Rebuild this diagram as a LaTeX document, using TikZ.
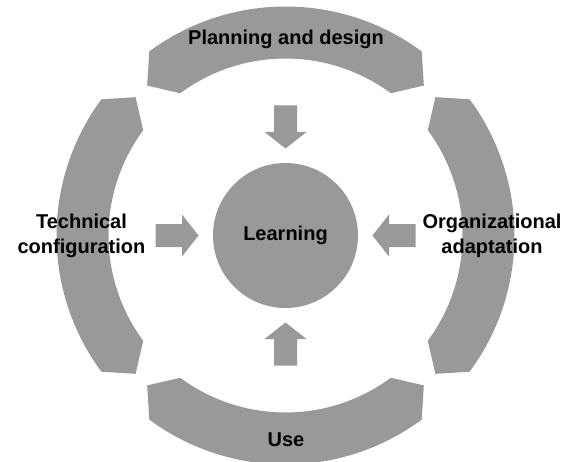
\documentclass[tikz,border=0pt]{standalone}
\usepackage{fontspec}
\setmainfont{Liberation Sans}
\definecolor{ringgray}{HTML}{999999}
\tikzset{
  lbl/.style={font=\bfseries\fontsize{20}{25}\selectfont, text=black, inner sep=0pt, align=center},
  seg/.style={fill=ringgray},
  blockarrow/.style={fill=ringgray}
}
\begin{document}
\begin{tikzpicture}[x=1pt,y=1pt]
\useasboundingbox (0,0) rectangle (564,461);
\begin{scope}[shift={(285.5,225.5)}]
  % ring segments with pointed ends
  \foreach \a in {0,90,180,270}{
    \fill[seg] ({\a-36.5}:229pt) arc[start angle={\a-36.5}, end angle={\a+36.5}, radius=229pt]
      -- ({\a+42.7}:204pt) -- ({\a+36.5}:177pt)
      arc[start angle={\a+36.5}, end angle={\a-36.5}, radius=177pt]
      -- ({\a-42.7}:204pt) -- cycle;
  }
  % block arrows pointing to the centre
  \foreach \a in {0,90,180,270}{
    \fill[blockarrow, rotate=\a] (130pt,-11.5pt) -- (103.5pt,-11.5pt) -- (103.5pt,-21pt)
      -- (87pt,0pt) -- (103.5pt,21pt) -- (103.5pt,11.5pt) -- (130pt,11.5pt) -- cycle;
  }
  \node[circle, fill=ringgray, minimum size=145pt, inner sep=0pt] (learn) at (0,0) {};
\end{scope}
\node[lbl] (learntxt) at (learn.center) {Learning};
\node[lbl, anchor=base] (plan) at (286,416) {Planning and design};
\node[lbl, anchor=base] (use) at (286,15) {Use};
\node[lbl] (tech) at (81.5,225.5) {Technical\\configuration};
\node[lbl] (org) at (492,225.5) {Organizational\\adaptation};
\end{tikzpicture}
\end{document}
